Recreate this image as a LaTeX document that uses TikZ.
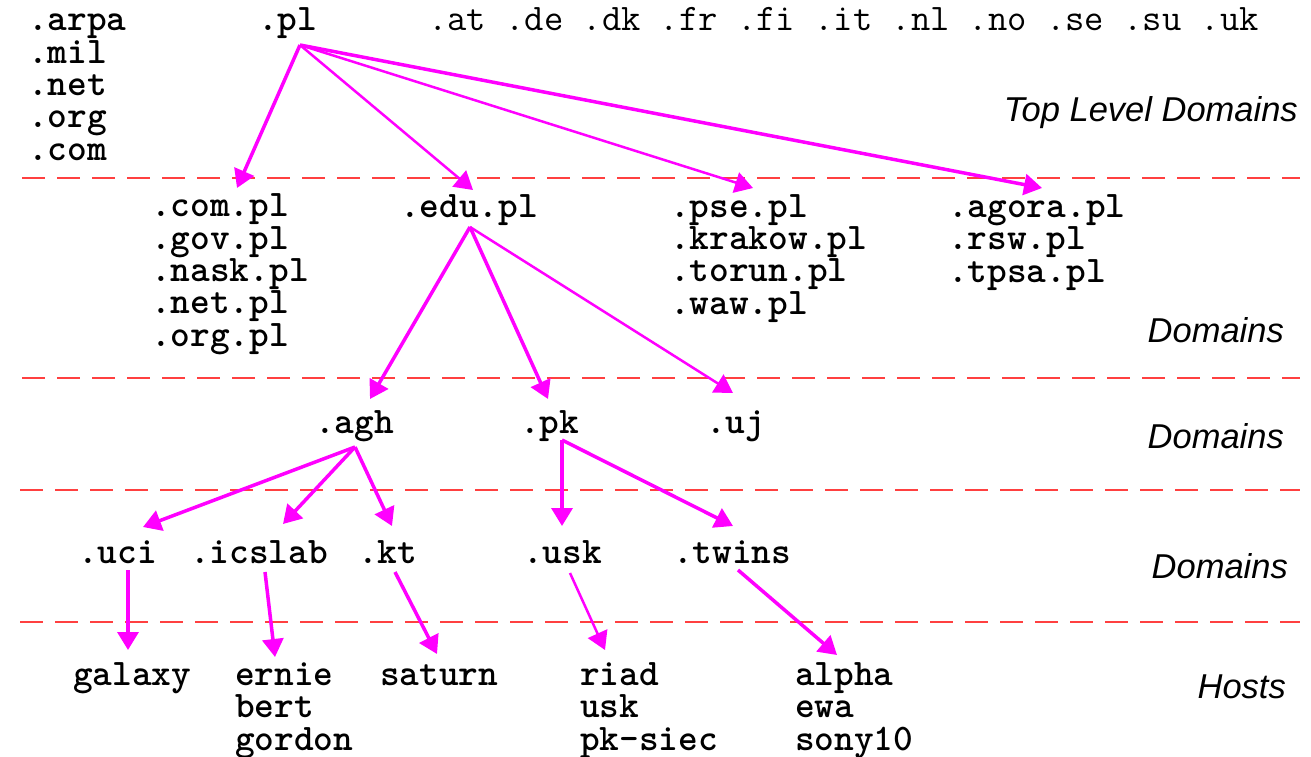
\documentclass[tikz,border=0pt]{standalone}
\usepackage{fontspec}
\newfontfamily\lblfont{Liberation Sans}
\usetikzlibrary{arrows.meta}
\definecolor{arrcol}{HTML}{FF00FF}
\definecolor{dashcol}{HTML}{FF4040}
\tikzset{
  mono/.style={anchor=base west, inner sep=0pt, align=left, font=\ttfamily\bfseries\fontsize{37.5}{32.3}\selectfont, text=black},
  monolight/.style={mono, font=\ttfamily\fontsize{37.5}{32.3}\selectfont},
  lvl/.style={anchor=base east, inner sep=0pt, font=\lblfont\itshape\fontsize{34.5}{36}\selectfont, text=black},
  sep/.style={draw=dashcol, line width=2.5pt, dash pattern=on 23pt off 12pt},
  arr/.style={draw=arrcol, line width=3.5pt, -{Triangle[length=18pt,width=21pt]}},
  arrthin/.style={arr, line width=2.5pt},
}
\begin{document}
\begin{tikzpicture}[x=1pt,y=-1pt]
\useasboundingbox (0,0) rectangle (1311,757);
\fill[white] (0,0) rectangle (1311,757);

% separators
\draw[sep] (22,178) -- (1300,178);
\draw[sep] (22,378) -- (1300,378);
\draw[sep] (20,490) -- (1300,490);
\draw[sep] (20,622) -- (1300,622);

% level labels
\node[lvl] (lTLD) at (1298,122) {Top Level Domains};
\node[lvl] (lD1) at (1284,342) {Domains};
\node[lvl] (lD2) at (1284,448) {Domains};
\node[lvl] (lD3) at (1288,578) {Domains};
\node[lvl] (lH) at (1286,698) {Hosts};

% top level (multi-line nodes: base anchor = last line)
\node[mono] (gtld) at (28,160) {.arpa\\.mil\\.net\\.org\\.com};
\node[mono] (pl) at (258,31) {.pl};
\node[monolight] (cc) at (428,31) {.at .de .dk .fr .fi .it .nl .no .se .su .uk};

% second level
\node[mono] (compl) at (151,346) {.com.pl\\.gov.pl\\.nask.pl\\.net.pl\\.org.pl};
\node[mono] (edupl) at (400,217) {.edu.pl};
\node[mono] (psepl) at (670,314) {.pse.pl\\.krakow.pl\\.torun.pl\\.waw.pl};
\node[mono] (agorapl) at (948,282) {.agora.pl\\.rsw.pl\\.tpsa.pl};

% third level
\node[mono] (agh) at (315,433) {.agh};
\node[mono] (pk) at (520,433) {.pk};
\node[mono] (uj) at (706,433) {.uj};

% fourth level
\node[mono] (uci) at (78,563) {.uci};
\node[mono] (icslab) at (190,563) {.icslab};
\node[mono] (kt) at (358,563) {.kt};
\node[mono] (usk) at (523,563) {.usk};
\node[mono] (twins) at (673,563) {.twins};

% hosts
\node[mono] (galaxy) at (73,685) {galaxy};
\node[mono] (ernie) at (235,750) {ernie\\bert\\gordon};
\node[mono] (saturn) at (380,685) {saturn};
\node[mono] (riad) at (580,750) {riad\\usk\\pk-siec};
\node[mono] (alpha) at (795,750) {alpha\\ewa\\sony10};

% connector end points
\coordinate (pl-o) at (300,45);
\coordinate (compl-i) at (237,188);
\coordinate (edupl-i) at (473,190);
\coordinate (psepl-i) at (753,188);
\coordinate (agorapl-i) at (1042,188);
\coordinate (edupl-o) at (470,227);
\coordinate (agh-i) at (370,399);
\coordinate (pk-i) at (548,399);
\coordinate (uj-i) at (733,393);
\coordinate (agh-o) at (355,447);
\coordinate (uci-i) at (143,527);
\coordinate (icslab-i) at (283,524);
\coordinate (kt-i) at (392,526);
\coordinate (pk-o) at (562,440);
\coordinate (usk-i) at (562,526);
\coordinate (twins-i) at (733,526);
\coordinate (uci-o) at (128,570);
\coordinate (galaxy-i) at (128,650);
\coordinate (icslab-o) at (265,572);
\coordinate (ernie-i) at (275,657);
\coordinate (kt-o) at (395,572);
\coordinate (saturn-i) at (437,654);
\coordinate (usk-o) at (570,573);
\coordinate (riad-i) at (605,650);
\coordinate (twins-o) at (738,570);
\coordinate (alpha-i) at (837,655);

% connectors
\draw[arr] (pl-o) -- (compl-i);
\draw[arrthin] (pl-o) -- (edupl-i);
\draw[arrthin] (pl-o) -- (psepl-i);
\draw[arr] (pl-o) -- (agorapl-i);
\draw[arr] (edupl-o) -- (agh-i);
\draw[arr] (edupl-o) -- (pk-i);
\draw[arrthin] (edupl-o) -- (uj-i);
\draw[arr] (agh-o) -- (uci-i);
\draw[arr] (agh-o) -- (icslab-i);
\draw[arr] (agh-o) -- (kt-i);
\draw[arr] (pk-o) -- (usk-i);
\draw[arr] (pk-o) -- (twins-i);
\draw[arr] (uci-o) -- (galaxy-i);
\draw[arr] (icslab-o) -- (ernie-i);
\draw[arr] (kt-o) -- (saturn-i);
\draw[arrthin] (usk-o) -- (riad-i);
\draw[arr] (twins-o) -- (alpha-i);
\end{tikzpicture}
\end{document}
